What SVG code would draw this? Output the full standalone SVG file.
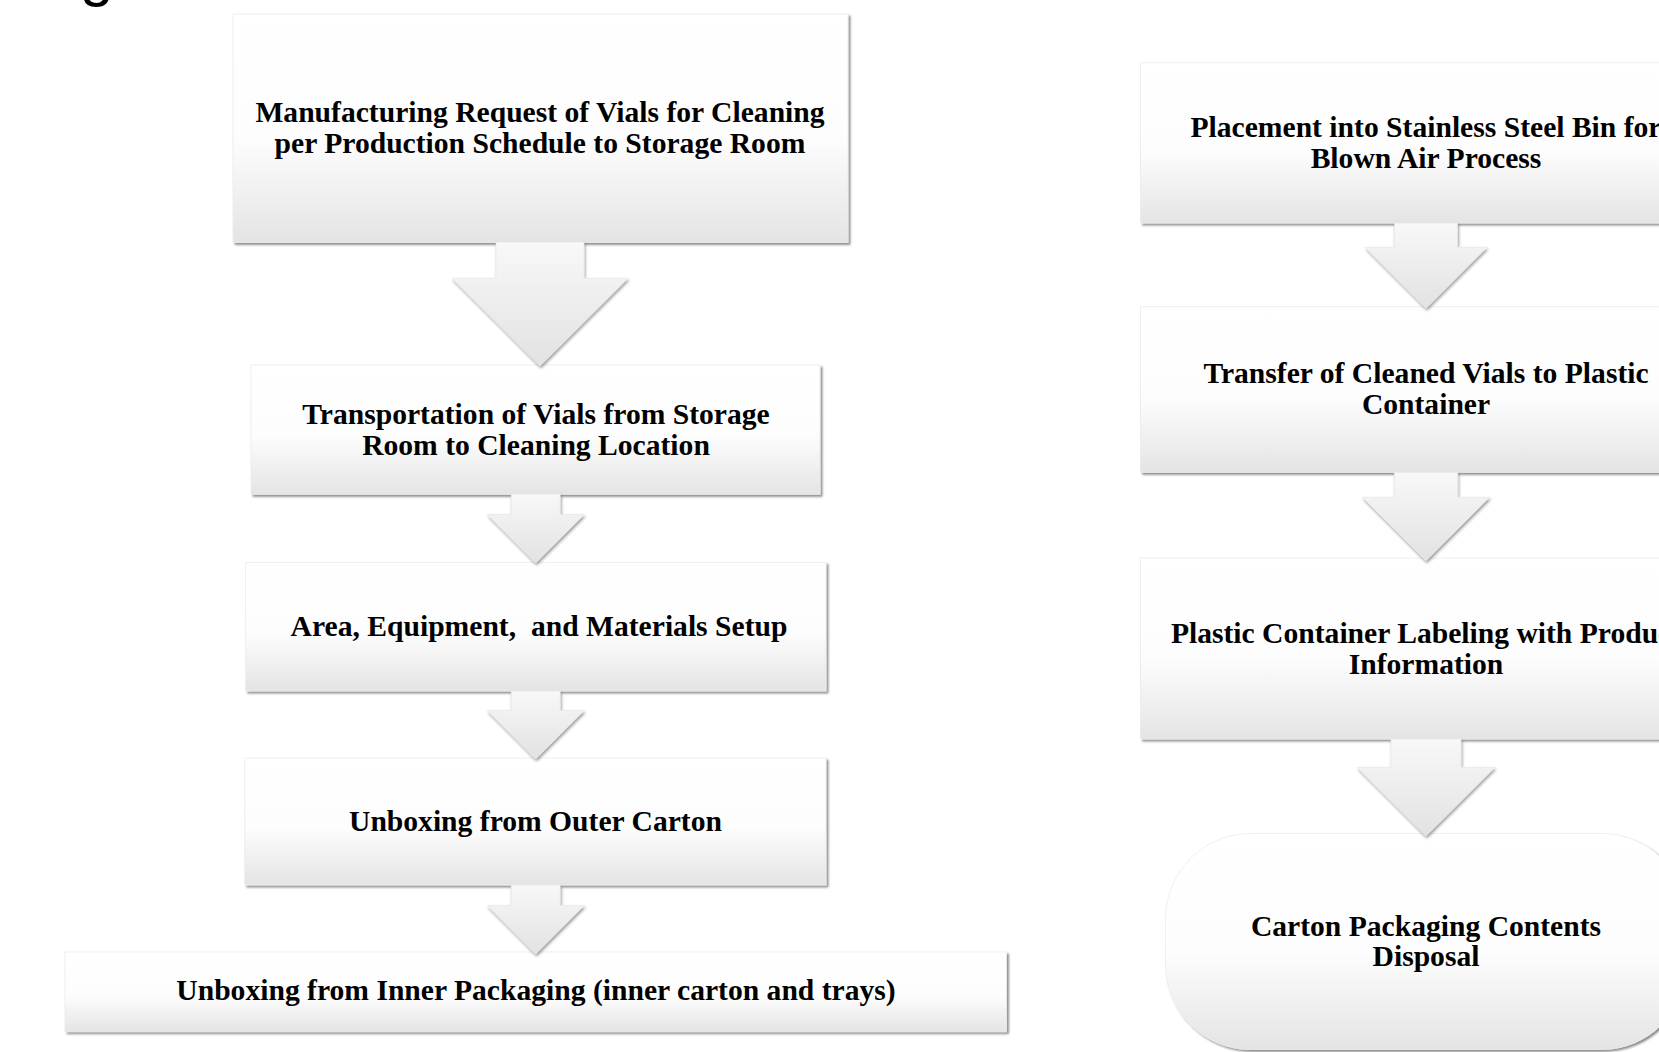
<svg xmlns="http://www.w3.org/2000/svg" width="1659" height="1052" viewBox="0 0 1659 1052">
  <defs>
    <linearGradient id="boxFill" x1="0" y1="0" x2="0" y2="1">
      <stop offset="0" stop-color="#ffffff"/>
      <stop offset="0.55" stop-color="#fdfdfd"/>
      <stop offset="1" stop-color="#e4e4e4"/>
    </linearGradient>
    <linearGradient id="arrowFill" x1="0" y1="0" x2="0" y2="1">
      <stop offset="0" stop-color="#f8f8f8"/>
      <stop offset="1" stop-color="#e2e2e2"/>
    </linearGradient>
    <filter id="shadow" x="-5%" y="-5%" width="110%" height="115%">
      <feGaussianBlur in="SourceAlpha" stdDeviation="1.3"/>
      <feOffset dx="1.8" dy="2.4" result="blur"/>
      <feFlood flood-color="#000" flood-opacity="0.45"/>
      <feComposite in2="blur" operator="in"/>
      <feMerge>
        <feMergeNode/>
        <feMergeNode in="SourceGraphic"/>
      </feMerge>
    </filter>
    <filter id="arrowShadow" x="-10%" y="-10%" width="120%" height="125%">
      <feGaussianBlur in="SourceAlpha" stdDeviation="1.4"/>
      <feOffset dx="0.8" dy="1.6" result="blur"/>
      <feFlood flood-color="#000" flood-opacity="0.4"/>
      <feComposite in2="blur" operator="in"/>
      <feMerge>
        <feMergeNode/>
        <feMergeNode in="SourceGraphic"/>
      </feMerge>
    </filter>
  </defs>
  <style>
    .box { fill: url(#boxFill); stroke: #ececec; stroke-width: 0.8; filter: url(#shadow); }
    .arrow { fill: url(#arrowFill); stroke: #e6e6e6; stroke-width: 0.6; filter: url(#arrowShadow); }
    .label { font-family: "Liberation Serif", "Times New Roman", serif; font-weight: bold; font-size: 29.6px; fill: #000; text-anchor: middle; white-space: pre; }
    .frag { font-family: "Liberation Sans", Arial, sans-serif; font-size: 60px; fill: #000; }
  </style>

  <rect width="1659" height="1052" fill="#ffffff"/>

  <!-- descender of a heading cut off by the top edge -->
  <text class="frag" x="80" y="-5">g</text>

  <!-- left column -->
  <g id="n1">
    <rect class="box" x="233" y="14" width="615" height="228.5"/>
    <text class="label" x="540" y="122">Manufacturing Request of Vials for Cleaning</text>
    <text class="label" x="540" y="153">per Production Schedule to Storage Room</text>
  </g>
  <g id="n2">
    <rect class="box" x="251" y="365" width="569" height="129.3"/>
    <text class="label" x="536" y="424">Transportation of Vials from Storage</text>
    <text class="label" x="536" y="454.5">Room to Cleaning Location</text>
  </g>
  <g id="n3">
    <rect class="box" x="245.7" y="562.3" width="580.3" height="128.7"/>
    <text class="label" x="539" y="635.5">Area, Equipment,  and Materials Setup</text>
  </g>
  <g id="n4">
    <rect class="box" x="244.8" y="758" width="581.2" height="127"/>
    <text class="label" x="535.5" y="831">Unboxing from Outer Carton</text>
  </g>
  <g id="n5">
    <rect class="box" x="65" y="952" width="941.5" height="79.7"/>
    <text class="label" x="536" y="1000">Unboxing from Inner Packaging (inner carton and trays)</text>
  </g>

  <!-- right column -->
  <g id="n6">
    <rect class="box" x="1140.6" y="62.8" width="571" height="160.2"/>
    <text class="label" x="1426" y="137">Placement into Stainless Steel Bin for</text>
    <text class="label" x="1426" y="167.5">Blown Air Process</text>
  </g>
  <g id="n7">
    <rect class="box" x="1140.6" y="306.8" width="571" height="165.5"/>
    <text class="label" x="1426" y="383">Transfer of Cleaned Vials to Plastic</text>
    <text class="label" x="1426" y="414">Container</text>
  </g>
  <g id="n8">
    <rect class="box" x="1140.6" y="558" width="571" height="181"/>
    <text class="label" x="1426" y="643">Plastic Container Labeling with Product</text>
    <text class="label" x="1426" y="673.5">Information</text>
  </g>
  <g id="n9">
    <rect class="box" x="1165.5" y="833.5" width="521" height="216" rx="85" ry="85"/>
    <text class="label" x="1426" y="936">Carton Packaging Contents</text>
    <text class="label" x="1426" y="966">Disposal</text>
  </g>

  <!-- block arrows between steps -->
  <g id="connectors">
    <polygon class="arrow" points="496,242 584,242 584,278.3 628,278.3 540,366 452,278.3 496,278.3"/>
    <polygon class="arrow" points="511.2,494 560.2,494 560.2,514.5 584.2,514.5 535.7,563 487.2,514.5 511.2,514.5"/>
    <polygon class="arrow" points="511.2,691 560.2,691 560.2,710.5 584.2,710.5 535.7,759 487.2,710.5 511.2,710.5"/>
    <polygon class="arrow" points="511.2,885 560.2,885 560.2,905.5 584.2,905.5 535.7,954 487.2,905.5 511.2,905.5"/>

    <polygon class="arrow" points="1394.5,223 1457.5,223 1457.5,247.3 1487,247.3 1426,308.3 1365,247.3 1394.5,247.3"/>
    <polygon class="arrow" points="1394.3,472.3 1457.7,472.3 1457.7,497.3 1489.5,497.3 1426,560.8 1362.5,497.3 1394.3,497.3"/>
    <polygon class="arrow" points="1391,739 1461,739 1461,767.3 1495,767.3 1426,836 1357,767.3 1391,767.3"/>
  </g>
</svg>
